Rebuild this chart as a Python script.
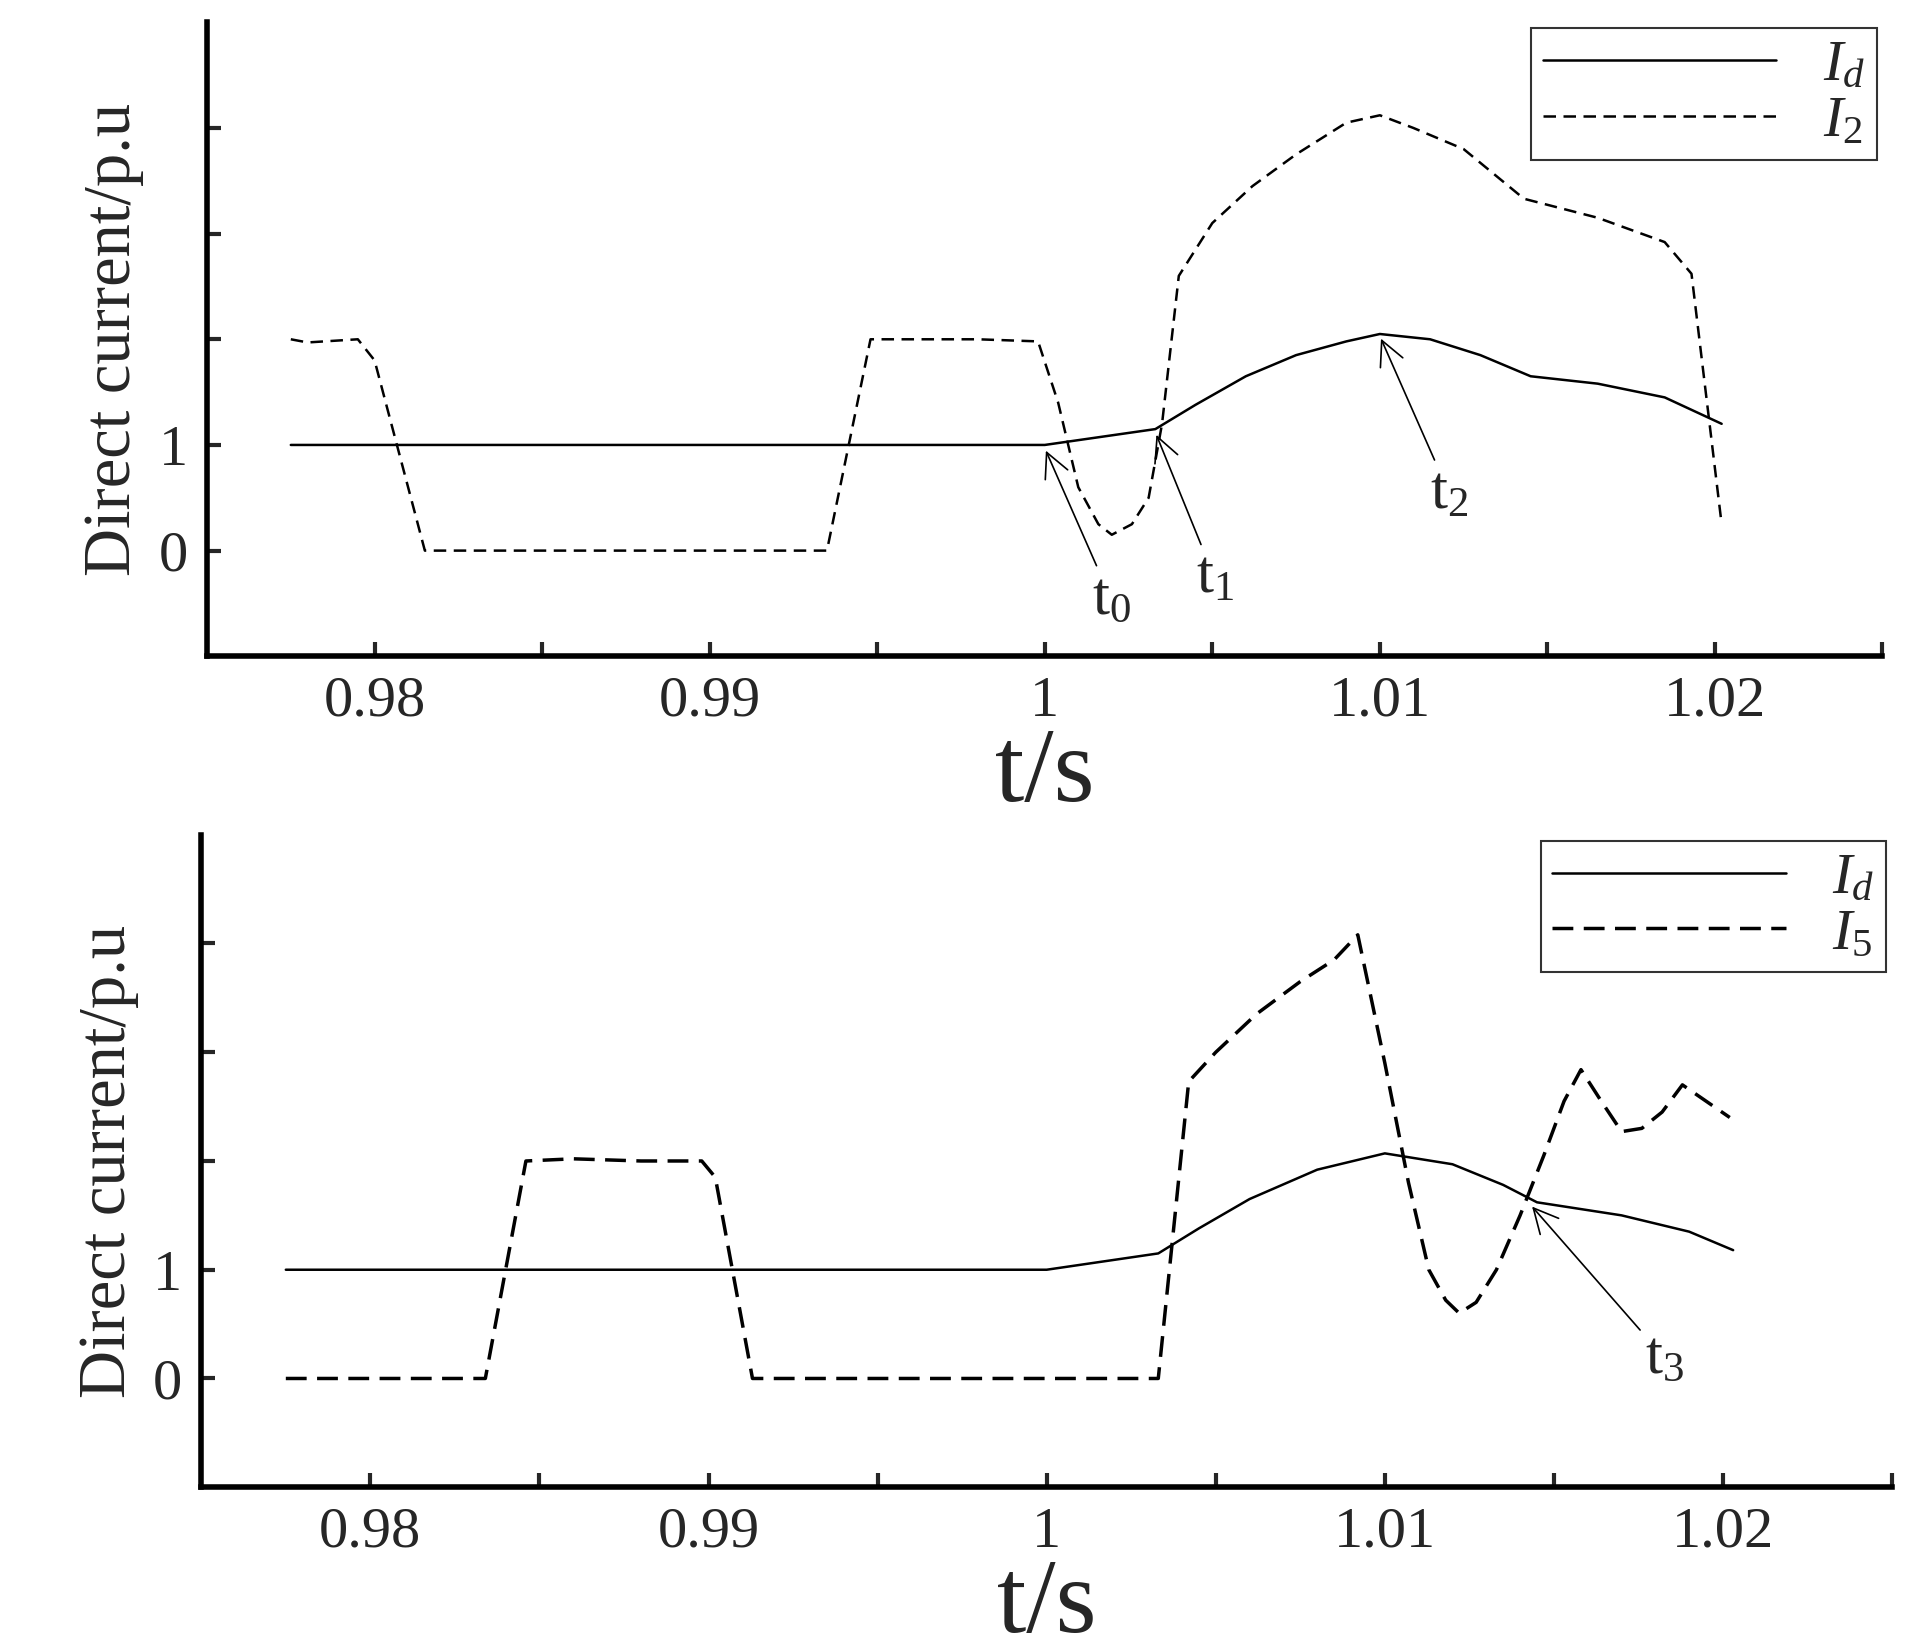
import numpy as np, pandas as pd, seaborn as sns, matplotlib
matplotlib.use("Agg")
import matplotlib.pyplot as plt

sns.set_theme(style="white")
plt.rcParams['font.family'] = ['Liberation Serif', 'DejaVu Serif']
plt.rcParams['mathtext.fontset'] = 'custom'
plt.rcParams['mathtext.it'] = 'Liberation Serif:italic'
plt.rcParams['mathtext.rm'] = 'Liberation Serif'

t_id1 = [0.9775, 0.990, 1.0000, 1.0033, 1.0045, 1.0060, 1.0075, 1.0090, 1.0100, 1.0115, 1.0130, 1.0145, 1.0165, 1.0185, 1.0202]
v_id1 = [1.0, 1.0, 1.0, 1.15, 1.38, 1.65, 1.85, 1.98, 2.05, 2.0, 1.85, 1.65, 1.58, 1.45, 1.2]
t_i2 = [0.9775, 0.9780, 0.9795, 0.9800, 0.9815, 0.9935, 0.9948, 0.9960, 0.9980, 0.9998, 1.0004, 1.0010, 1.0016, 1.0020, 1.0026, 1.0031, 1.0035, 1.0040, 1.0050, 1.0062, 1.0075, 1.0090, 1.0100, 1.0110, 1.0125, 1.0143, 1.0165, 1.0185, 1.0193, 1.0202]
v_i2 = [2.0, 1.97, 2.0, 1.8, 0.0, 0.0, 2.0, 2.0, 2.0, 1.98, 1.4, 0.6, 0.25, 0.15, 0.25, 0.5, 1.2, 2.6, 3.1, 3.45, 3.75, 4.05, 4.12, 4.0, 3.8, 3.33, 3.15, 2.92, 2.62, 0.25]

t_id2 = [0.9775, 0.990, 1.0000, 1.0033, 1.0045, 1.0060, 1.0080, 1.0100, 1.0120, 1.0135, 1.0145, 1.0170, 1.0190, 1.0203]
v_id2 = [1.0, 1.0, 1.0, 1.15, 1.38, 1.65, 1.92, 2.07, 1.97, 1.78, 1.62, 1.5, 1.35, 1.18]
t_i5 = [0.9775, 0.9834, 0.9846, 0.9860, 0.9880, 0.9898, 0.9902, 0.9913, 1.0000, 1.0033, 1.0042, 1.0050, 1.0062, 1.0075, 1.0085, 1.0092, 1.0100, 1.0107, 1.0113, 1.0118, 1.0122, 1.0127, 1.0133, 1.0140, 1.0147, 1.0153, 1.0158, 1.0164, 1.0170, 1.0176, 1.0182, 1.0188, 1.0195, 1.0202]
v_i5 = [0.0, 0.0, 2.0, 2.02, 2.0, 2.0, 1.85, 0.0, 0.0, 0.0, 2.73, 3.0, 3.35, 3.65, 3.85, 4.08, 2.9, 1.8, 1.0, 0.72, 0.6, 0.7, 1.0, 1.5, 2.05, 2.55, 2.84, 2.55, 2.27, 2.3, 2.45, 2.7, 2.55, 2.4]

fig = plt.figure(figsize=(19.17, 16.51), dpi=100)
ax1 = fig.add_axes([0.108, 0.6025, 0.874, 0.384])
ax2 = fig.add_axes([0.105, 0.0992, 0.882, 0.3952])

def style(ax):
    ax.set_xlim(0.975, 1.025)
    ax.set_ylim(-1, 5)
    ax.set_xticks([0.98, 0.99, 1.0, 1.01, 1.02])
    ax.set_xticklabels(['0.98', '0.99', '1', '1.01', '1.02'])
    ax.set_xticks([0.985, 0.995, 1.005, 1.015, 1.025], minor=True)
    ax.set_yticks([0, 1, 2, 3, 4])
    ax.set_yticklabels(['0', '1', '', '', ''])
    for s in ['top', 'right']:
        ax.spines[s].set_visible(False)
    for s in ['left', 'bottom']:
        ax.spines[s].set_linewidth(4)
        ax.spines[s].set_color('black')
    ax.tick_params(which='both', direction='in', width=3, length=10, labelsize=42, pad=14, left=True, bottom=True)
    ax.set_xlabel('t/s', fontsize=76, labelpad=0, family=['Liberation Serif'])
    ax.set_ylabel('Direct current/p.u', fontsize=48, labelpad=10, family=['Liberation Serif'])

sns.lineplot(x=t_id1, y=v_id1, ax=ax1, color='black', lw=1.8, label='$I_d$')
sns.lineplot(x=t_i2, y=v_i2, ax=ax1, color='black', lw=1.8, ls=(0, (5, 3)), label='$I_2$')
sns.lineplot(x=t_id2, y=v_id2, ax=ax2, color='black', lw=1.8, label='$I_d$')
sns.lineplot(x=t_i5, y=v_i5, ax=ax2, color='black', lw=2.5, ls=(0, (6, 3)), label='$I_5$')
for ax in (ax1, ax2):
    style(ax)
    lg = ax.legend(loc='upper right', fontsize=42, fancybox=False, edgecolor='black', handlelength=4,
                   borderaxespad=0.1, labelspacing=0.05, borderpad=0.2)
    lg.get_frame().set_linewidth(1.5)

ap = dict(arrowstyle='->', color='black', lw=1.2)
ax1.annotate('t$_0$', xy=(1.0, 0.97), xytext=(1.0014, -0.6), fontsize=44, arrowprops=ap)
ax1.annotate('t$_1$', xy=(1.0033, 1.12), xytext=(1.0045, -0.4), fontsize=44, arrowprops=ap)
ax1.annotate('t$_2$', xy=(1.0100, 2.03), xytext=(1.0115, 0.4), fontsize=44, arrowprops=ap)
ax2.annotate('t$_3$', xy=(1.0143, 1.6), xytext=(1.0177, 0.05), fontsize=44, arrowprops=ap)

fig.savefig('out.png', dpi=100, facecolor='white')
